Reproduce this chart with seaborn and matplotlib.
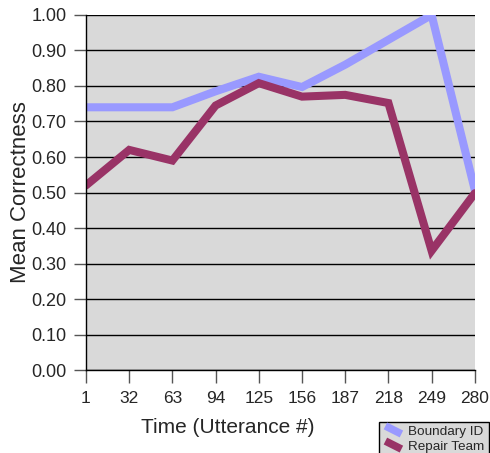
import numpy as np
import pandas as pd
import matplotlib
matplotlib.use('Agg')
import matplotlib.pyplot as plt
import seaborn as sns
from matplotlib.legend_handler import HandlerLine2D
from matplotlib.lines import Line2D

times = ['1', '32', '63', '94', '125', '156', '187', '218', '249', '280']
boundary_id = [0.74, 0.74, 0.74, 0.785, 0.826, 0.797, 0.86, 0.93, 1.00, 0.507]
repair_team = [0.52, 0.62, 0.59, 0.745, 0.808, 0.77, 0.775, 0.752, 0.336, 0.498]
series_names = ['Boundary ID', 'Repair Team']
colors = ['#9999FF', '#993366']

df = pd.DataFrame({
    'time': times * 2,
    'score': boundary_id + repair_team,
    'series': [series_names[0]] * len(times) + [series_names[1]] * len(times),
})

sns.set_style('white')
plt.rcParams['font.family'] = ['Liberation Sans', 'DejaVu Sans']


class DiagonalHandler(HandlerLine2D):
    # excel style slanted legend key
    def create_artists(self, legend, orig_handle, xdescent, ydescent,
                       width, height, fontsize, trans):
        line = Line2D([xdescent + 2, width - 2], [height, -ydescent + 1],
                      color=orig_handle.get_color(), lw=5.5,
                      solid_capstyle='butt')
        line.set_transform(trans)
        return [line]


fig = plt.figure(figsize=(4.9, 4.53), dpi=100)
ax = fig.add_axes([0.1755, 0.183, 0.7935, 0.784])
ax.set_facecolor('#D9D9D9')

sns.lineplot(data=df, x='time', y='score', hue='series', palette=colors,
             sort=False, lw=5.8, ax=ax, legend=False)
for ln in ax.lines:
    ln.set_solid_joinstyle('miter')

ax.set_xlim(0, len(times) - 1)
ax.set_ylim(0, 1.0)
ax.set_yticks(np.arange(0, 1.01, 0.1))
ax.set_yticklabels(['%.2f' % v for v in np.arange(0, 1.01, 0.1)])
ax.yaxis.grid(True, color='black', lw=1)
ax.set_axisbelow(True)
for s in ['top', 'right']:
    ax.spines[s].set_visible(False)
for s in ['left', 'bottom']:
    ax.spines[s].set_color('black')
    ax.spines[s].set_linewidth(1)
ax.tick_params(axis='both', direction='out', length=9, width=1, color='#555555',
               labelsize=13, pad=5, left=True, bottom=True)
ax.tick_params(axis='x', labelsize=12.5, pad=6)
ax.set_xlabel('Time (Utterance #)', fontsize=15)
ax.xaxis.set_label_coords(0.365, -0.135)
ax.set_ylabel('Mean Correctness', fontsize=16, labelpad=0.5)

handles = [Line2D([], [], color=c) for c in colors]
leg = fig.legend(handles, series_names, loc='lower right',
                 bbox_to_anchor=(0.997, -0.01), fontsize=9.7,
                 handler_map={Line2D: DiagonalHandler()},
                 frameon=True, fancybox=False, handlelength=1.6,
                 handletextpad=0.3, borderpad=0.3, labelspacing=0.2,
                 borderaxespad=0)
leg.get_frame().set_facecolor('#D9D9D9')
leg.get_frame().set_edgecolor('black')
leg.get_frame().set_linewidth(1)
leg.get_frame().set_alpha(1)

fig.savefig('out.png', dpi=100)
